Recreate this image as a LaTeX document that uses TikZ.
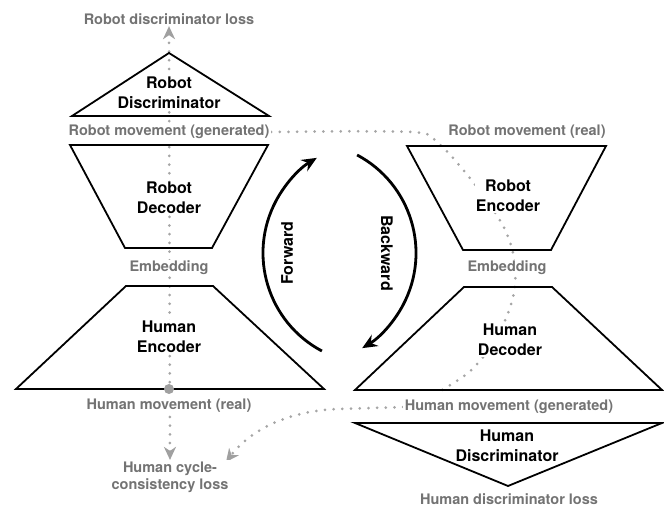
\documentclass[tikz,border=0pt]{standalone}
\usepackage{fontspec}
\setmainfont{TeX Gyre Heros}
\usetikzlibrary{arrows.meta}
\definecolor{dotgray}{HTML}{A6A6A6}
\definecolor{tipgray}{HTML}{A0A0A0}
\definecolor{txtgray}{HTML}{737373}
\pgfdeclarelayer{bg}
\pgfsetlayers{bg,main}
\begin{document}
\begin{tikzpicture}[x=1pt,y=1pt,
  blk/.style={font=\fontsize{16}{20}\selectfont\bfseries, align=center, text=black, inner sep=1pt, fill=white},
  gry/.style={font=\fontsize{14.5}{17}\selectfont\bfseries, align=center, text=txtgray, inner sep=1.5pt, fill=white},
  netshape/.style={draw=black, line width=1.8pt, line join=miter},
  dotline/.style={draw=dotgray, line width=3pt, line cap=round, dash pattern=on 0pt off 8.7pt},
  gtip/.tip={Stealth[length=13pt,width=12pt,inset=4pt,color=tipgray]},
  cyc/.style={draw=black, line width=2.8pt, -{Stealth[length=15pt,width=13pt,inset=5pt]}}
]
\useasboundingbox (0,0) rectangle (664,508);

% ---------- left column ----------
\node[gry] (rdl) at (169,489) {Robot discriminator loss};
\node[blk] (rdisc) at (169,415) {Robot\\Discriminator};
\node[gry] (rmg) at (169,376) {Robot movement (generated)};
\node[blk] (rdec) at (169,310) {Robot\\Decoder};
\node[gry] (embL) at (169,240) {Embedding};
\node[blk] (henc) at (169,171) {Human\\Encoder};
\coordinate (realdot) at (169,119);
\node[gry] (hmr) at (169,102) {Human movement (real)};
\node[gry] (hcl) at (170,31) {Human cycle-\\consistency loss};

\draw[netshape] (72,392) -- (169,455) -- (269,392) -- cycle;
\draw[netshape] (70,363) -- (268,363) -- (212,260) -- (125,260) -- cycle;
\draw[netshape] (126,222) -- (213,222) -- (324,119) -- (16,119) -- cycle;

% ---------- right column ----------
\node[gry] (rmr) at (527,376) {Robot movement (real)};
\node[blk] (renc) at (508,312) {Robot\\Encoder};
\node[gry] (embR) at (507,240) {Embedding};
\node[blk] (hdec) at (510,168) {Human\\Decoder};
\node[gry] (hmg) at (509,101) {Human movement (generated)};
\node[blk] (hdisc) at (507,62) {Human\\Discriminator};
\node[gry] (hdl) at (509,9) {Human discriminator loss};

\draw[netshape] (407,362) -- (606,362) -- (551,258) -- (463,258) -- cycle;
\draw[netshape] (464,221) -- (552,221) -- (662,118) -- (355,118) -- cycle;
\draw[netshape] (355,85) -- (662,85) -- (508,22) -- cycle;

% ---------- forward / backward ----------
\coordinate (fc) at (374,255);
\coordinate (bc) at (305,255);
\draw[cyc] (fc) ++(242:111) arc[start angle=242, end angle=121, radius=111];
\draw[cyc] (bc) ++(62:111) arc[start angle=62, end angle=-59, radius=111];
\node[blk, fill=none, rotate=90] (fwd) at (287,255) {Forward};
\node[blk, fill=none, rotate=-90] (bwd) at (387,255) {Backward};

% ---------- dotted flows (behind labels) ----------
\coordinate (cyctip) at (226,46);
\begin{pgfonlayer}{bg}
  \draw[dotline, gtip-gtip] (hcl.north) -- (rdl.south);
  \draw[dotline] plot[smooth, tension=0.5] coordinates {(rmg.east) (412,376) (438,365) (469,331) (501,286) (513,255) (515,222) (507,192) (490,160) (468,135) (437,115)};
  \draw[dotline, -gtip] (hmg.west) -- (340,99) .. controls (292,98) and (252,80) .. (cyctip);
\end{pgfonlayer}
\fill[tipgray] (realdot) circle (5pt);
\end{tikzpicture}
\end{document}
